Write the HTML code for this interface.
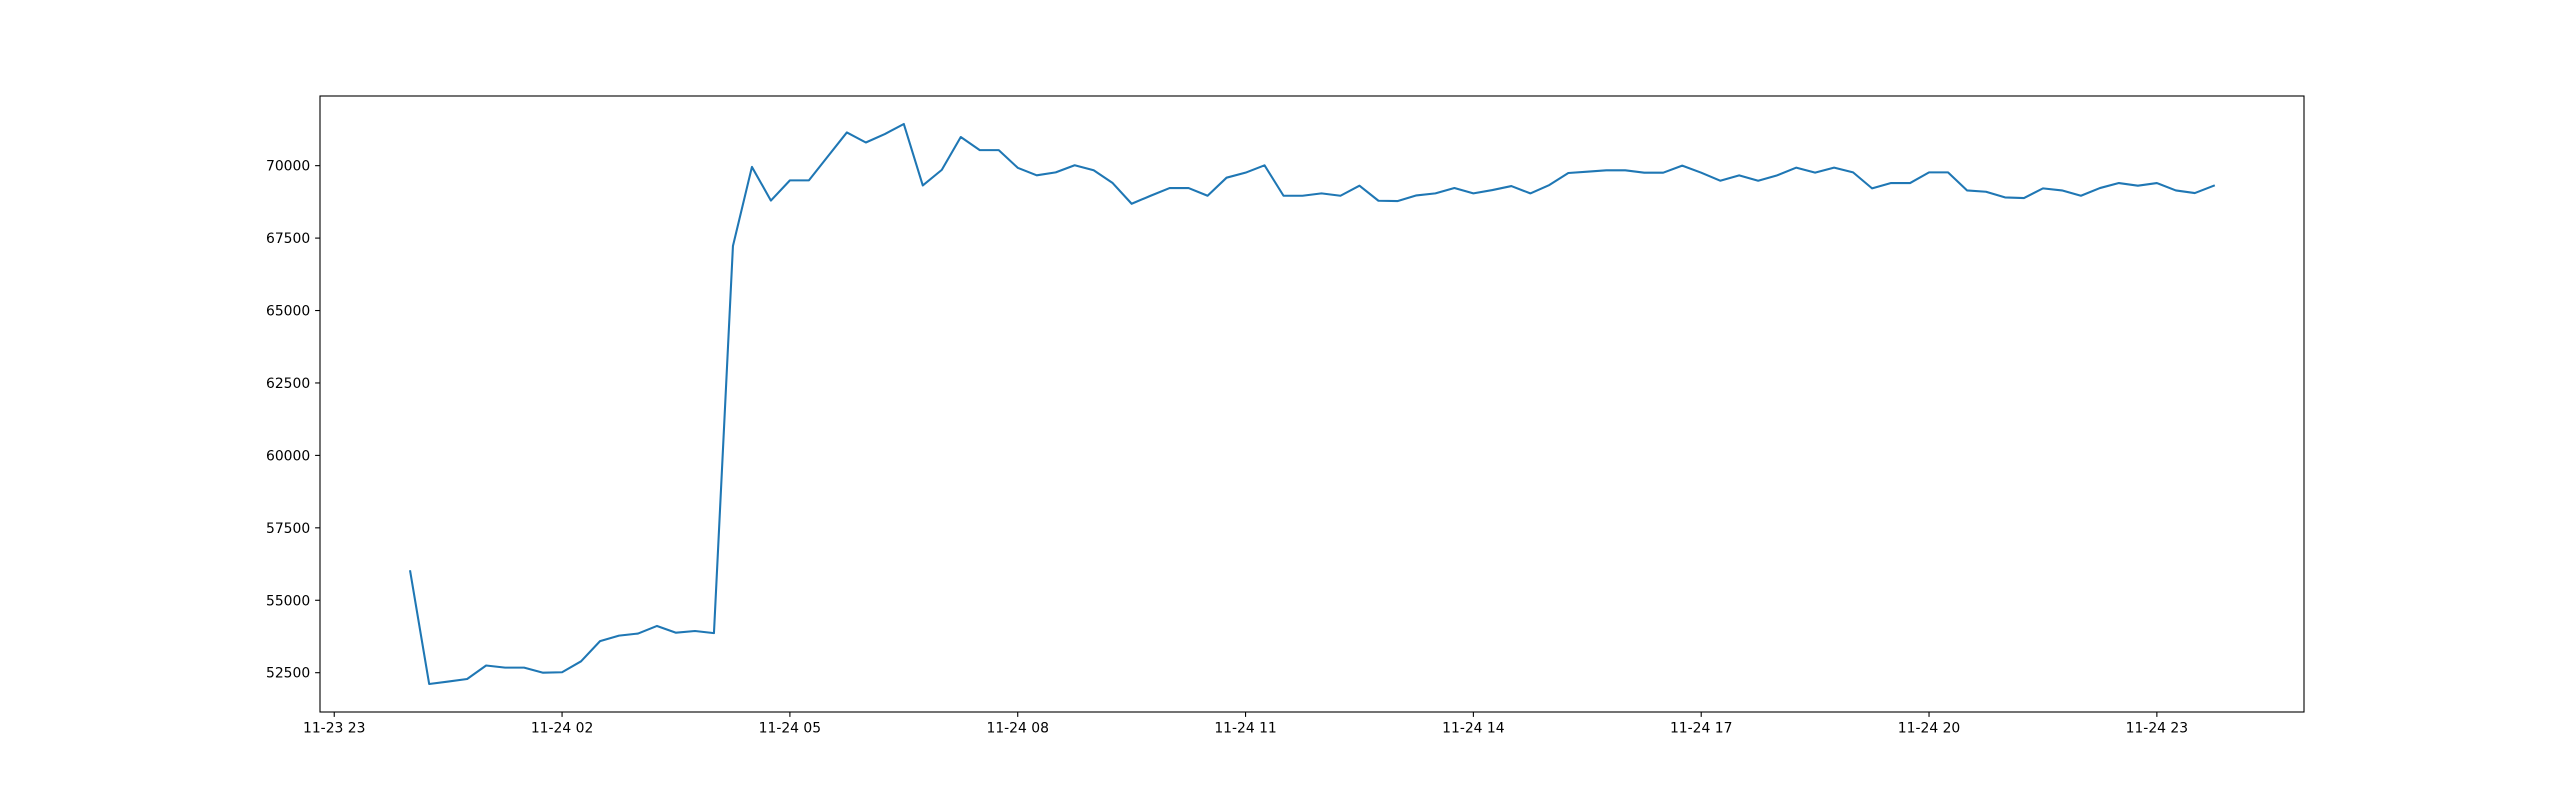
<!DOCTYPE html>
<html><head><meta charset="utf-8"><style>
html,body{margin:0;padding:0;background:#fff;}
svg{display:block;font-family:"DejaVu Sans","Liberation Sans",sans-serif;}
</style></head><body>
<svg id="chart" width="2560" height="800" viewBox="0 0 2560 800" xmlns="http://www.w3.org/2000/svg">
<rect width="2560" height="800" fill="#fff"/>
<g id="grid"></g>
<g id="series"></g>
<rect x="320" y="96" width="1984" height="616" fill="none" stroke="#000" stroke-width="1.1"/>
<g id="xticks"></g>
<g id="yticks"></g>
</svg>
<script>
// Data: 15-minute samples starting 11-24 00:00 (hours offset from 11-23 23:00 = 1)
const startHour = 1;
const stepHours = 0.25;
const values = [56000,52110,52195,52283,52748,52675,52675,52500,52515,52893,53590,53779,53852,54113,53880,53939,53866,67226,69956,68795,69492,69492,70320,71147,70799,71090,71438,69317,69855,70988,70537,70537,69927,69666,69768,70015,69840,69400,68685,68962,69227,69227,68962,69585,69758,70012,68962,68962,69043,68962,69308,68789,68777,68973,69043,69227,69043,69158,69296,69043,69331,69746,69792,69839,69839,69758,69758,70000,69758,69481,69666,69481,69666,69931,69758,69931,69769,69216,69400,69400,69769,69769,69146,69100,68904,68881,69216,69146,68962,69227,69400,69308,69400,69146,69054,69308];
const yTicks = [52500,55000,57500,60000,62500,65000,67500,70000];
const xTickHours = [0,3,6,9,12,15,18,21,24];
const xTickLabels = ["11-23 23","11-24 02","11-24 05","11-24 08","11-24 11","11-24 14","11-24 17","11-24 20","11-24 23"];

const L=320,R=2304,T=96,B=712;
const xs = values.map((v,i)=>startHour+i*stepHours);
const x0=Math.min(...xs), x1=Math.max(...xs), xm=(x1-x0)*0.05;
const y0=Math.min(...values), y1=Math.max(...values), ym=(y1-y0)*0.05;
const X=h=>L+(h-(x0-xm))/((x1+xm)-(x0-xm))*(R-L);
const Y=v=>B-(v-(y0-ym))/((y1+ym)-(y0-ym))*(B-T);
const NS="http://www.w3.org/2000/svg";
function mk(tag,attrs,parent){const e=document.createElementNS(NS,tag);for(const k in attrs)e.setAttribute(k,attrs[k]);parent.appendChild(e);return e;}

const pts=xs.map((h,i)=>X(h).toFixed(2)+","+Y(values[i]).toFixed(2)).join(" ");
const line=mk("polyline",{points:pts,fill:"none",stroke:"#1f77b4","stroke-width":2.08,"stroke-linejoin":"round","stroke-linecap":"square"},document.getElementById("series"));



const xg=document.getElementById("xticks");
xTickHours.forEach((h,i)=>{
  const x=X(h);
  const t=mk("line",{x1:x,x2:x,y1:B,y2:B+4.9,stroke:"#000","stroke-width":1.1},xg);
  
  
  const l=mk("text",{x:x,y:B+20.5,"text-anchor":"middle","font-size":"13.9px",fill:"#000"},xg);
  l.textContent=xTickLabels[i];
  
  
});
const yg=document.getElementById("yticks");
yTicks.forEach(v=>{
  const y=Y(v);
  const t=mk("line",{x1:L-4.9,x2:L,y1:y,y2:y,stroke:"#000","stroke-width":1.1},yg);
  
  
  const l=mk("text",{x:L-9.8,y:y+5,"text-anchor":"end","font-size":"13.9px",fill:"#000"},yg);
  l.textContent=String(v);
  
  
});
</script>
</body></html>
